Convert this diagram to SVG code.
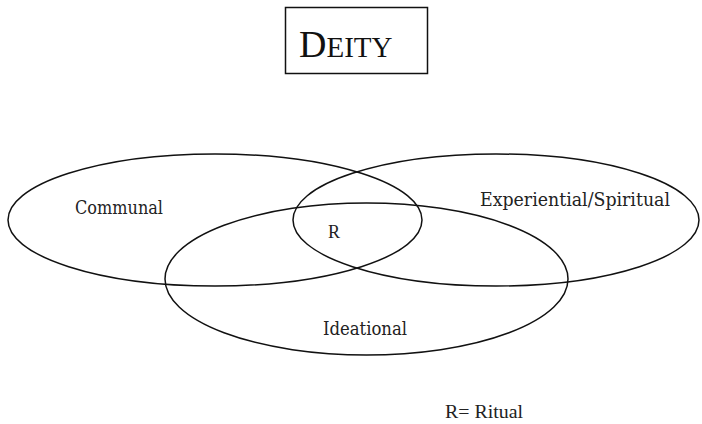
<svg xmlns="http://www.w3.org/2000/svg" width="702" height="424" viewBox="0 0 702 424">
<style>
.set{fill:none;stroke:#111;stroke-width:1.5}
.lbl{font-family:"Liberation Serif",serif;fill:#222;font-size:18px}
.cond{font-family:"DejaVu Serif Condensed","Liberation Serif",serif;fill:#222;font-size:19px}
</style>
<rect width="702" height="424" fill="#fff"/>
<g id="deity">
<rect x="285.5" y="7.5" width="142" height="66" fill="none" stroke="#111" stroke-width="1.5"/>
<text x="299" y="57" font-family="Liberation Serif,serif" fill="#111"><tspan font-size="38">D</tspan><tspan font-size="29">EITY</tspan></text>
</g>
<g id="connectors">
<ellipse id="communal-set" class="set" cx="215" cy="220" rx="207" ry="66"/>
<ellipse id="experiential-set" class="set" cx="496" cy="220" rx="203" ry="66"/>
<ellipse id="ideational-set" class="set" cx="366.5" cy="279" rx="201.5" ry="76"/>
</g>
<g id="communal"><text class="cond" x="75" y="214" textLength="88" lengthAdjust="spacingAndGlyphs">Communal</text></g>
<g id="experiential"><text class="cond" x="480" y="206" textLength="190" lengthAdjust="spacingAndGlyphs">Experiential/Spiritual</text></g>
<g id="ideational"><text class="cond" x="323" y="335" textLength="84" lengthAdjust="spacingAndGlyphs">Ideational</text></g>
<g id="ritual"><text class="lbl" x="328" y="238">R</text></g>
<g id="legend"><text class="lbl" x="445" y="418" textLength="78" lengthAdjust="spacingAndGlyphs">R= Ritual</text></g>
</svg>
